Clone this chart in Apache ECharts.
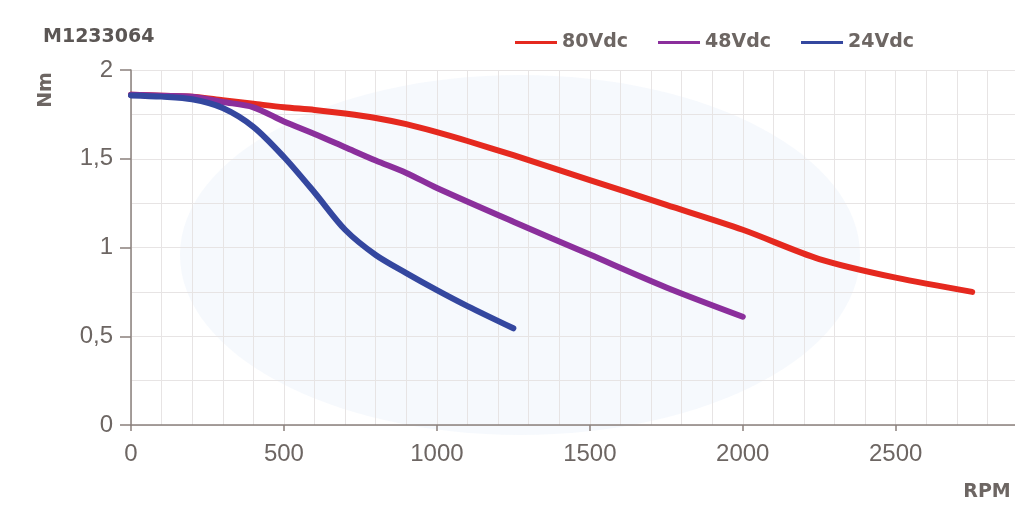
<!DOCTYPE html>
<html>
<head>
<meta charset="utf-8">
<script src="https://cdn.jsdelivr.net/npm/echarts@6/dist/echarts.min.js"></script>
<style>html,body{margin:0;padding:0;background:#fff;}#c{width:1015px;height:507px;}</style>
</head>
<body>
<div id="c"></div>
<script>
// Data
const titleText = 'M1233064';
const seriesNames = ['80Vdc', '48Vdc', '24Vdc'];
const rpm80 = [0,100,200,300,400,500,600,700,800,900,1000,1100,1250,1500,1750,2000,2250,2500,2750];
const nm80  = [1.86,1.855,1.85,1.83,1.81,1.79,1.775,1.755,1.73,1.695,1.65,1.6,1.52,1.38,1.24,1.10,0.935,0.83,0.75];
const rpm48 = [0,100,200,300,400,500,600,700,800,900,1000,1250,1500,1750,2000];
const nm48  = [1.86,1.855,1.85,1.82,1.79,1.71,1.64,1.565,1.49,1.42,1.335,1.145,0.96,0.775,0.61];
const rpm24 = [0,100,200,300,400,500,600,700,800,900,1000,1100,1250];
const nm24  = [1.857,1.85,1.835,1.786,1.68,1.51,1.31,1.10,0.958,0.856,0.76,0.67,0.545];
const xLabelValues = [0,500,1000,1500,2000,2500];
const yLabelValues = [0,0.5,1,1.5,2];

const colors = ['#e5291f', '#8b2f9c', '#34479f'];
const txt = '#6d6663';
const axisCol = '#8a807c';
const gridCol = '#e7e4e4';

function pairs(xs, ys){ return xs.map((x,i)=>[x, ys[i]]); }

const xMax = 2890, yMax = 2;
const labelFont = {fontFamily: 'Liberation Sans', fontSize: 24, color: txt};

const chart = echarts.init(document.getElementById('c'), null, {renderer:'canvas'});
chart.setOption({
  animation: false,
  backgroundColor: '#ffffff',
  color: colors,
  title: {
    text: titleText, left: 38, top: 23,
    textStyle: {fontFamily: 'DejaVu Sans', fontWeight: 'bold', fontSize: 19, color: '#5b5654'}
  },
  legend: {
    top: 28, left: 510,
    itemWidth: 42, itemHeight: 3, itemGap: 30,
    icon: 'rect',
    textStyle: {fontFamily: 'DejaVu Sans', fontWeight: 'bold', fontSize: 19, color: txt},
    data: seriesNames
  },
  graphic: [
    {type: 'ellipse', z: -1, silent: true, shape: {cx: 520, cy: 255, rx: 340, ry: 180},
     style: {fill: 'rgba(208,224,243,0.2)'}},
    {type: 'text', x: 46, y: 90, rotation: Math.PI/2, z: 10,
     style: {text: 'Nm', fontFamily: 'DejaVu Sans', fontWeight: 'bold', fontSize: 19, fill: txt, align: 'center', verticalAlign: 'middle'}},
    {type: 'text', x: 987, y: 492, z: 10,
     style: {text: 'RPM', fontFamily: 'DejaVu Sans', fontWeight: 'bold', fontSize: 19, fill: txt, align: 'center', verticalAlign: 'middle'}}
  ],
  grid: {left: 131, right: 0, top: 70, bottom: 82, containLabel: false},
  xAxis: [
    { // fine grid every 100 RPM
      type: 'value', min: 0, max: xMax, interval: 100,
      axisLine: {show: true, lineStyle: {color: axisCol, width: 1.5}},
      axisTick: {show: false}, axisLabel: {show: false},
      splitLine: {show: true, lineStyle: {color: gridCol, width: 1}}
    },
    { // labels and ticks every 500 RPM
      type: 'value', min: 0, max: xMax, position: 'bottom', offset: 0,
      axisLine: {show: false},
      axisTick: {show: true, length: 6, customValues: xLabelValues, lineStyle: {color: axisCol, width: 1.5}},
      axisLabel: Object.assign({customValues: xLabelValues, margin: 17, formatter: v => String(v)}, labelFont),
      splitLine: {show: false}
    }
  ],
  yAxis: [
    {
      type: 'value', min: 0, max: yMax, interval: 0.25,
      axisLine: {show: true, lineStyle: {color: axisCol, width: 1.5}},
      axisTick: {show: false}, axisLabel: {show: false},
      splitLine: {show: true, lineStyle: {color: gridCol, width: 1}}
    },
    {
      type: 'value', min: 0, max: yMax, position: 'left', offset: 0,
      axisLine: {show: false},
      axisTick: {show: true, length: 11, customValues: yLabelValues, lineStyle: {color: axisCol, width: 1.5}},
      axisLabel: Object.assign({customValues: yLabelValues, margin: 18,
        formatter: v => String(v).replace('.', ',')}, labelFont),
      splitLine: {show: false}
    }
  ],
  series: [
    {name: seriesNames[0], type: 'line', data: pairs(rpm80, nm80), smooth: 0.3, showSymbol: false, symbol: 'none',
     lineStyle: {width: 6, color: colors[0], cap: 'round', join: 'round'}},
    {name: seriesNames[1], type: 'line', data: pairs(rpm48, nm48), smooth: 0.3, showSymbol: false, symbol: 'none',
     lineStyle: {width: 6, color: colors[1], cap: 'round', join: 'round'}},
    {name: seriesNames[2], type: 'line', data: pairs(rpm24, nm24), smooth: 0.3, showSymbol: false, symbol: 'none',
     lineStyle: {width: 6, color: colors[2], cap: 'round', join: 'round'}}
  ]
});
</script>
</body>
</html>
